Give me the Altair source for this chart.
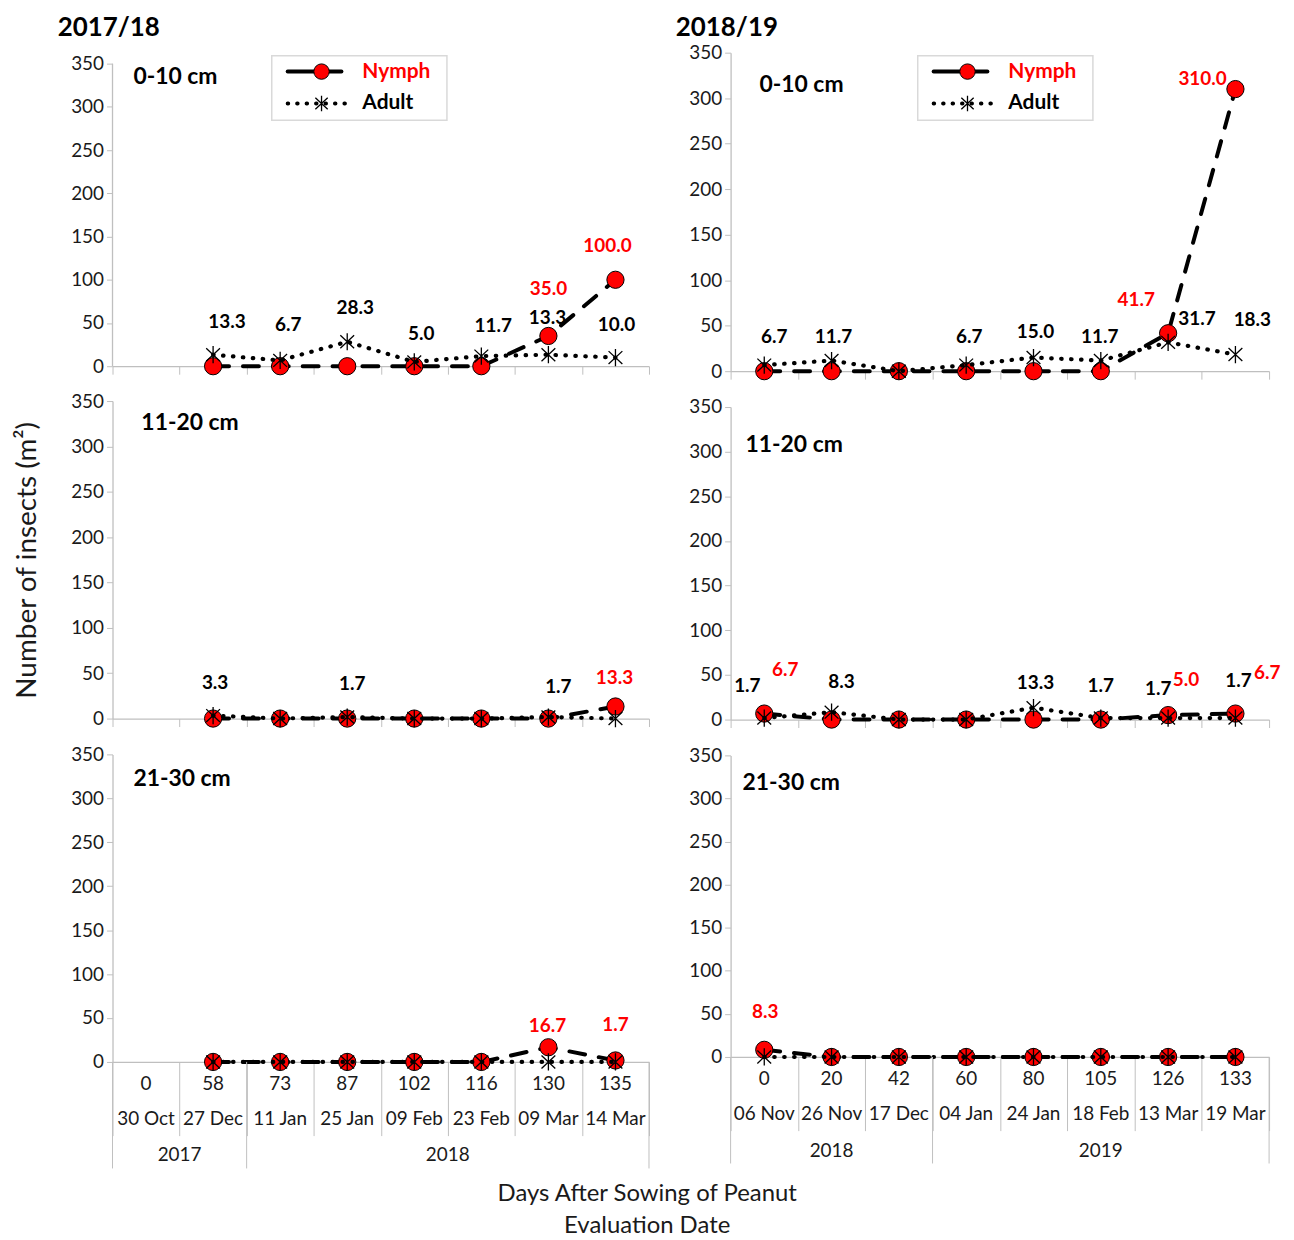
import altair as alt
import pandas as pd

FONT = "Lato"
RED = "#FF0000"
GRAY = "#BFBFBF"
INK = "#1a1a1a"

Y_TICKS = [0, 50, 100, 150, 200, 250, 300, 350]

# ---------- 2017/18 category axis ----------
DAYS_1718 = ["0", "58", "73", "87", "102", "116", "130", "135"]
DATES_1718 = ["30 Oct", "27 Dec", "11 Jan", "25 Jan", "09 Feb", "23 Feb", "09 Mar", "14 Mar"]
YEARS_1718 = ["2017", "2018"]
YEAR_FIRST_CAT_1718 = [0, 2]

# ---------- 2018/19 category axis ----------
DAYS_1819 = ["0", "20", "42", "60", "80", "105", "126", "133"]
DATES_1819 = ["06 Nov", "26 Nov", "17 Dec", "04 Jan", "24 Jan", "18 Feb", "13 Mar", "19 Mar"]
YEARS_1819 = ["2018", "2019"]
YEAR_FIRST_CAT_1819 = [0, 3]

# ---------- insect counts (per m2) ----------
NYMPH_1718_0_10 = [None, 0, 0, 0, 0, 0, 35.0, 100.0]
ADULT_1718_0_10 = [None, 13.3, 6.7, 28.3, 5.0, 11.7, 13.3, 10.0]
NYMPH_1718_11_20 = [None, 0, 0, 0, 0, 0, 0, 13.3]
ADULT_1718_11_20 = [None, 3.3, 0, 1.7, 0, 0, 1.7, 0]
NYMPH_1718_21_30 = [None, 0, 0, 0, 0, 0, 16.7, 1.7]
ADULT_1718_21_30 = [None, 0, 0, 0, 0, 0, 0, 0]

NYMPH_1819_0_10 = [0, 0, 0, 0, 0, 0, 41.7, 310.0]
ADULT_1819_0_10 = [6.7, 11.7, 0, 6.7, 15.0, 11.7, 31.7, 18.3]
NYMPH_1819_11_20 = [6.7, 0, 0, 0, 0, 0, 5.0, 6.7]
ADULT_1819_11_20 = [1.7, 8.3, 0, 0, 13.3, 1.7, 1.7, 1.7]
NYMPH_1819_21_30 = [8.3, 0, 0, 0, 0, 0, 0, 0]
ADULT_1819_21_30 = [0, 0, 0, 0, 0, 0, 0, 0]

SEASONS = ["2017/18", "2018/19"]
DEPTHS = ["0-10 cm", "11-20 cm", "21-30 cm"]
SERIES = ["Nymph", "Adult"]
Y_TITLE = "Number of insects (m²)"
X_TITLE = ["Days After Sowing of Peanut", "Evaluation Date"]

# ---------- layout / style (not data) ----------
ASTERISK = "M0,-1L0,1M-0.8,-0.75L0.8,0.75M-0.8,0.75L0.8,-0.75"
DEFAULT_OFFSET = {"Nymph": (0, -34), "Adult": (8, -33)}
LABEL_OFFSET = {
    ("L1", "Adult", 1): (14, -33), ("L1", "Adult", 2): (8, -36), ("L1", "Adult", 3): (8, -34),
    ("L1", "Adult", 4): (7, -28), ("L1", "Adult", 5): (12, -30), ("L1", "Adult", 6): (-1, -37),
    ("L1", "Adult", 7): (1, -33), ("L1", "Nymph", 6): (0, -47), ("L1", "Nymph", 7): (-8, -34),
    ("L2", "Adult", 1): (2, -33), ("L2", "Adult", 3): (5, -33), ("L2", "Adult", 6): (10, -30),
    ("L2", "Nymph", 7): (-1, -29),
    ("L3", "Nymph", 6): (-1, -21), ("L3", "Nymph", 7): (0, -36),
    ("R1", "Adult", 0): (10, -28), ("R1", "Adult", 1): (2, -24), ("R1", "Adult", 3): (3, -28),
    ("R1", "Adult", 4): (2, -26), ("R1", "Adult", 5): (-1, -24), ("R1", "Adult", 6): (29, -23),
    ("R1", "Adult", 7): (17, -35), ("R1", "Nymph", 6): (-32, -33), ("R1", "Nymph", 7): (-33, -10),
    ("R2", "Adult", 0): (-17, -32), ("R2", "Nymph", 0): (21, -44), ("R2", "Adult", 1): (10, -30),
    ("R2", "Adult", 4): (2, -25), ("R2", "Adult", 5): (0, -32), ("R2", "Adult", 6): (-10, -29),
    ("R2", "Nymph", 6): (18, -35), ("R2", "Adult", 7): (3, -37), ("R2", "Nymph", 7): (32, -41),
    ("R3", "Nymph", 0): (1, -38),
}


def series_frame(nymph, adult):
    rows = []
    for name, vals in zip(SERIES, (nymph, adult)):
        for i, v in enumerate(vals):
            if v is not None:
                rows.append({"series": name, "idx": i, "pos": i + 0.5,
                             "value": v, "label": f"{v:.1f}"})
    return pd.DataFrame(rows)


def panel(pid, depth, nymph, adult, width, height, days, dates, years, year_first,
          label_xy, season=None, season_xy=None, legend_xy=None, ytitle=None,
          bottom=False, ymax=350):
    n = len(days)
    df = series_frame(nymph, adult)
    extended = ymax > Y_TICKS[-1]
    xaxis = alt.Axis(values=list(range(n + 1)), labels=False, title=None, grid=False,
                     tickSize=74 if bottom else 8, tickColor=GRAY, tickWidth=1,
                     domainColor=GRAY, domainWidth=1.3)
    yaxis = alt.Axis(values=Y_TICKS, grid=False, tickSize=6, tickColor=GRAY,
                     domain=not extended,
                     domainColor=GRAY, domainWidth=1.3, labelFont=FONT, labelFontSize=19,
                     labelColor=INK, labelPadding=3, title=ytitle,
                     titleFont=FONT, titleFontSize=28, titleFontWeight="normal",
                     titleColor=INK, titlePadding=29)
    X = alt.X("pos:Q", scale=alt.Scale(domain=[0, n], nice=False, zero=False), axis=xaxis)
    yscale = alt.Scale(domain=[0, ymax], nice=False, zero=True)
    Y = alt.Y("value:Q", scale=yscale, axis=yaxis)
    base = alt.Chart(df)
    layers = []
    if extended:
        adf = pd.DataFrame({"pos": [0], "lo": [Y_TICKS[0]], "hi": [Y_TICKS[-1]]})
        layers.append(alt.Chart(adf).mark_rule(color=GRAY, strokeWidth=1.3).encode(
            x=X, y=alt.Y("lo:Q", scale=yscale, axis=yaxis), y2="hi:Q"))
    # nymph series
    layers.append(base.transform_filter("datum.series == 'Nymph'").mark_line(
        color="black", strokeWidth=4, strokeDash=[16, 14], strokeCap="round").encode(x=X, y=Y))
    layers.append(base.transform_filter("datum.series == 'Nymph'").mark_point(
        shape="circle", filled=True, fill=RED, stroke="black", strokeWidth=1,
        size=300, opacity=1).encode(x=X, y=Y))
    # adult series
    layers.append(base.transform_filter("datum.series == 'Adult'").mark_line(
        color="black", strokeWidth=4.2, strokeDash=[0.5, 9.5], strokeCap="round").encode(x=X, y=Y))
    layers.append(base.transform_filter("datum.series == 'Adult'").mark_point(
        shape=ASTERISK, filled=False, stroke="black", strokeWidth=1.3,
        size=300, opacity=1).encode(x=X, y=Y))
    # data labels (non-zero values)
    for r in df[df["value"] > 0].itertuples():
        dx, dy = LABEL_OFFSET.get((pid, r.series, r.idx), DEFAULT_OFFSET[r.series])
        layers.append(base.transform_filter(
            f"datum.series == '{r.series}' && datum.idx == {r.idx}").mark_text(
            font=FONT, fontSize=19, fontWeight="bold", dx=dx, dy=dy,
            color=RED if r.series == "Nymph" else "black").encode(x=X, y=Y, text="label:N"))
    # depth label
    layers.append(alt.Chart(pd.DataFrame({"t": [depth]})).mark_text(
        font=FONT, fontSize=23, fontWeight="bold", align="left", baseline="middle",
        color="black").encode(x=alt.value(label_xy[0]), y=alt.value(label_xy[1]), text="t:N"))
    if season is not None:
        layers.append(alt.Chart(pd.DataFrame({"t": [season]})).mark_text(
            font=FONT, fontSize=26, fontWeight="bold", align="left", baseline="middle",
            color="black").encode(x=alt.value(season_xy[0]), y=alt.value(season_xy[1]), text="t:N"))
    if legend_xy is not None:
        bx, by = legend_xy
        one = pd.DataFrame({"series": SERIES})
        layers.append(alt.Chart(one.head(1)).mark_rect(
            fill="white", stroke="#D9D9D9", strokeWidth=1.5).encode(
            x=alt.value(bx), x2=alt.value(bx + 176), y=alt.value(by), y2=alt.value(by + 65)))
        layers.append(alt.Chart(one.head(1)).mark_rule(
            color="black", strokeWidth=4, strokeCap="round").encode(
            x=alt.value(bx + 16), x2=alt.value(bx + 70), y=alt.value(by + 16)))
        layers.append(alt.Chart(one.head(1)).mark_point(
            shape="circle", filled=True, fill=RED, stroke="black", strokeWidth=1,
            size=240, opacity=1).encode(x=alt.value(bx + 50), y=alt.value(by + 16)))
        layers.append(alt.Chart(one.tail(1)).mark_rule(
            color="black", strokeWidth=4, strokeDash=[0.5, 9], strokeCap="round").encode(
            x=alt.value(bx + 16), x2=alt.value(bx + 82), y=alt.value(by + 48)))
        layers.append(alt.Chart(one.tail(1)).mark_point(
            shape=ASTERISK, filled=False, stroke="black", strokeWidth=1.3,
            size=240, opacity=1).encode(x=alt.value(bx + 50), y=alt.value(by + 48)))
        for k, (name, col) in enumerate(zip(SERIES, (RED, "black"))):
            layers.append(alt.Chart(one[one["series"] == name]).mark_text(
                font=FONT, fontSize=21, fontWeight="bold", align="left", baseline="middle",
                color=col).encode(x=alt.value(bx + 91), y=alt.value(by + 16 + 32 * k),
                                  text="series:N"))
    if bottom:
        cats = pd.DataFrame({"pos": [i + 0.5 for i in range(n)], "day": days, "date": dates})
        layers.append(alt.Chart(cats).mark_text(
            font=FONT, fontSize=19, color=INK, baseline="middle").encode(
            x=X, y=alt.value(height + 22), text="day:N"))
        layers.append(alt.Chart(cats).mark_text(
            font=FONT, fontSize=19, color=INK, baseline="middle").encode(
            x=X, y=alt.value(height + 57), text="date:N"))
        bounds = year_first + [n]
        ydf = pd.DataFrame({"year": years,
                            "pos": [(bounds[k] + bounds[k + 1]) / 2 for k in range(len(years))]})
        layers.append(alt.Chart(ydf).mark_text(
            font=FONT, fontSize=19, color=INK, baseline="middle").encode(
            x=X, y=alt.value(height + 94), text="year:N"))
        bdf = pd.DataFrame({"pos": bounds})
        layers.append(alt.Chart(bdf).mark_rule(color=GRAY, strokeWidth=1).encode(
            x=X, y=alt.value(height), y2=alt.value(height + 107)))
    return alt.layer(*layers).properties(width=width, height=height)


left = alt.vconcat(
    panel("L1", DEPTHS[0], NYMPH_1718_0_10, ADULT_1718_0_10, 539, 315,
          DAYS_1718, DATES_1718, YEARS_1718, YEAR_FIRST_CAT_1718, (21, 24),
          season=SEASONS[0], season_xy=(-55, -25), legend_xy=(160, 3), ymax=362.7),
    panel("L2", DEPTHS[1], NYMPH_1718_11_20, ADULT_1718_11_20, 539, 319,
          DAYS_1718, DATES_1718, YEARS_1718, YEAR_FIRST_CAT_1718, (29, 22), ytitle=Y_TITLE),
    panel("L3", DEPTHS[2], NYMPH_1718_21_30, ADULT_1718_21_30, 539, 309,
          DAYS_1718, DATES_1718, YEARS_1718, YEAR_FIRST_CAT_1718, (21, 25), bottom=True),
    spacing=15)

right = alt.vconcat(
    panel("R1", DEPTHS[0], NYMPH_1819_0_10, ADULT_1819_0_10, 541, 320,
          DAYS_1819, DATES_1819, YEARS_1819, YEAR_FIRST_CAT_1819, (29, 32),
          season=SEASONS[1], season_xy=(-55, -25), legend_xy=(188, 3)),
    panel("R2", DEPTHS[1], NYMPH_1819_11_20, ADULT_1819_11_20, 541, 314,
          DAYS_1819, DATES_1819, YEARS_1819, YEAR_FIRST_CAT_1819, (15, 38)),
    panel("R3", DEPTHS[2], NYMPH_1819_21_30, ADULT_1819_21_30, 541, 303,
          DAYS_1819, DATES_1819, YEARS_1819, YEAR_FIRST_CAT_1819, (12, 28), bottom=True),
    spacing=15)

chart = alt.hconcat(left, right, spacing=26).properties(
    background="white",
    padding={"left": 5, "top": 4, "right": 5, "bottom": 0},
    title=alt.TitleParams(X_TITLE, orient="bottom", anchor="middle", font=FONT,
                          fontSize=24, fontWeight="normal", lineHeight=32, offset=13,
                          color=INK),
).configure_view(stroke=None)

chart.save("out.html", embed_options={"renderer": "svg", "actions": False})
